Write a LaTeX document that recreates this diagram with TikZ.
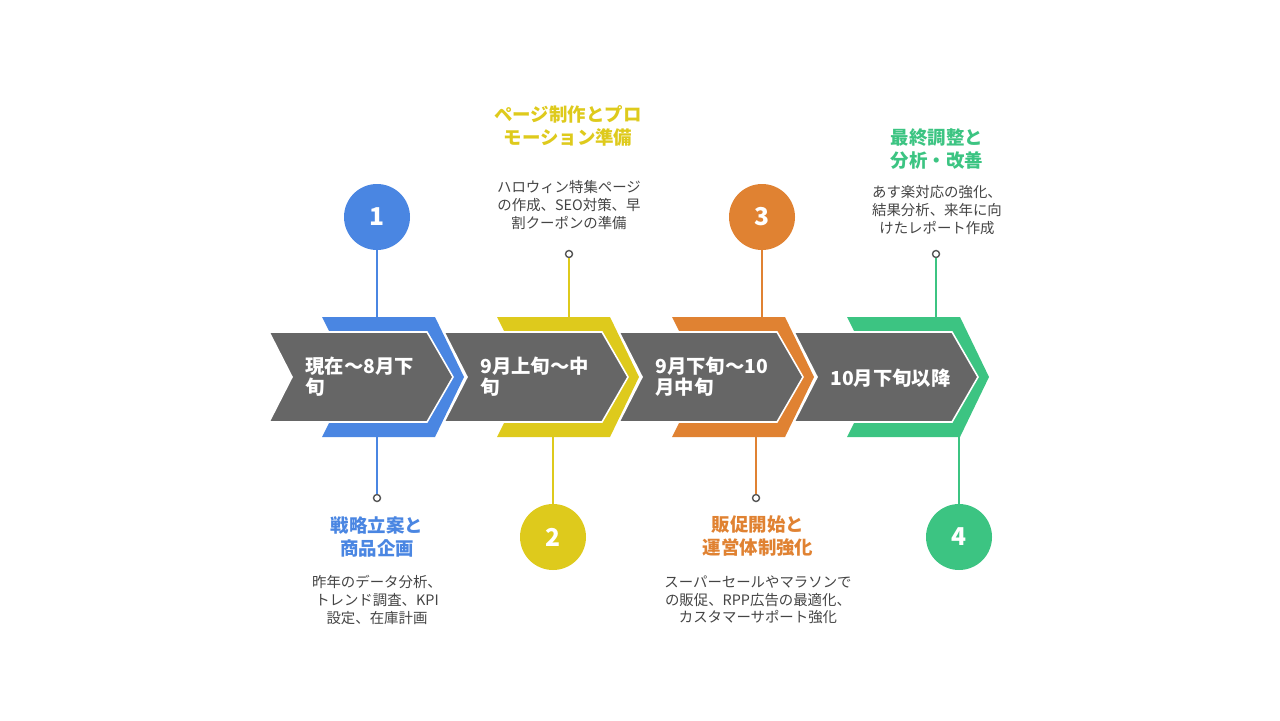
\documentclass[tikz,border=0pt]{standalone}
\usepackage{fontspec}
\setmainfont{Noto Sans CJK JP}
\usepackage{tikz}

\begin{document}
\begin{tikzpicture}[x=0.02cm, y=-0.02cm,
  flecha/.style={fill=grisFlecha, draw=white, line width=0.9pt, line join=miter},
  numero/.style={circle, minimum size=66*0.02cm, inner sep=0pt, text=white, font=\fontsize{14}{14}\selectfont\bfseries},
  punto/.style={circle, draw=grisPunto, fill=white, line width=0.8pt, minimum size=7*0.02cm, inner sep=0pt},
  etiqueta/.style={text=white, align=left, anchor=west, inner sep=0pt, font=\fontsize{11}{12}\selectfont\bfseries},
  titulo/.style={align=center, font=\fontsize{10.5}{13}\selectfont\bfseries},
  texto/.style={align=center, text=grisTexto, font=\fontsize{8.2}{10}\selectfont}]

% Colores
\definecolor{grisFlecha}{RGB}{102,102,102}
\definecolor{grisPunto}{RGB}{85,85,85}
\definecolor{grisTexto}{RGB}{68,68,68}
\definecolor{azul}{RGB}{74,134,226}
\definecolor{amarillo}{RGB}{222,202,28}
\definecolor{naranja}{RGB}{224,130,50}
\definecolor{verde}{RGB}{60,196,130}

\useasboundingbox (0,0) rectangle (1280,720);

% Etapa 1
\fill[azul] (322,317) -- (435,317) -- (464,377) -- (435,437) -- (322,437) -- (352,377) -- cycle;
\draw[flecha] (269,332) -- (427,332) -- (453,377) -- (427,422) -- (269,422) -- (292,377) -- cycle;
\node[etiqueta] (E1) at (305,377) {現在〜8月下\\旬};

% Etapa 2
\fill[amarillo] (497,317) -- (610,317) -- (639,377) -- (610,437) -- (497,437) -- (527,377) -- cycle;
\draw[flecha] (444,332) -- (602,332) -- (628,377) -- (602,422) -- (444,422) -- (467,377) -- cycle;
\node[etiqueta] (E2) at (480,377) {9月上旬〜中\\旬};

% Etapa 3
\fill[naranja] (672,317) -- (785,317) -- (814,377) -- (785,437) -- (672,437) -- (702,377) -- cycle;
\draw[flecha] (619,332) -- (777,332) -- (803,377) -- (777,422) -- (619,422) -- (642,377) -- cycle;
\node[etiqueta] (E3) at (655,377) {9月下旬〜10\\月中旬};

% Etapa 4
\fill[verde] (847,317) -- (960,317) -- (989,377) -- (960,437) -- (847,437) -- (877,377) -- cycle;
\draw[flecha] (794,332) -- (952,332) -- (978,377) -- (952,422) -- (794,422) -- (817,377) -- cycle;
\node[etiqueta] (E4) at (830,378) {10月下旬以降};

% Circulos numerados
\node[numero, fill=azul] (N1) at (377,217) {1};
\node[numero, fill=amarillo] (N2) at (553,537) {2};
\node[numero, fill=naranja] (N3) at (762,217) {3};
\node[numero, fill=verde] (N4) at (959,537) {4};

% Puntos
\node[punto] (P1) at (377,498) {};
\node[punto] (P2) at (569,254) {};
\node[punto] (P3) at (756,498) {};
\node[punto] (P4) at (936,254) {};

% Anclas sobre las flechas
\coordinate (A1) at (377,317);
\coordinate (B1) at (377,437);
\coordinate (A2) at (569,317);
\coordinate (B2) at (553,437);
\coordinate (A3) at (762,317);
\coordinate (B3) at (756,437);
\coordinate (A4) at (936,317);
\coordinate (B4) at (959,436);

% Conexiones
\draw[azul, line width=0.85pt] (N1) -- (A1);
\draw[azul, line width=0.85pt] (B1) -- (P1);
\draw[amarillo, line width=0.85pt] (P2) -- (A2);
\draw[amarillo, line width=0.85pt] (B2) -- (N2);
\draw[naranja, line width=0.85pt] (N3) -- (A3);
\draw[naranja, line width=0.85pt] (B3) -- (P3);
\draw[verde, line width=0.85pt] (P4) -- (A4);
\draw[verde, line width=0.85pt] (B4) -- (N4);

% Titulos
\node[titulo, text=azul] (T1) at (377,537) {戦略立案と\\商品企画};
\node[titulo, text=amarillo] (T2) at (568,126) {ページ制作とプロ\\モーション準備};
\node[titulo, text=naranja] (T3) at (758,536) {販促開始と\\運営体制強化};
\node[titulo, text=verde] (T4) at (937,149) {最終調整と\\分析・改善};

% Descripciones
\node[texto] (D1) at (377,600) {昨年のデータ分析、\\トレンド調査、KPI\\設定、在庫計画};
\node[texto] (D2) at (569,205) {ハロウィン特集ページ\\の作成、SEO対策、早\\割クーポンの準備};
\node[texto] (D3) at (758,600) {スーパーセールやマラソンで\\の販促、RPP広告の最適化、\\カスタマーサポート強化};
\node[texto] (D4) at (937,210) {あす楽対応の強化、\\結果分析、来年に向\\けたレポート作成};

\end{tikzpicture}
\end{document}
